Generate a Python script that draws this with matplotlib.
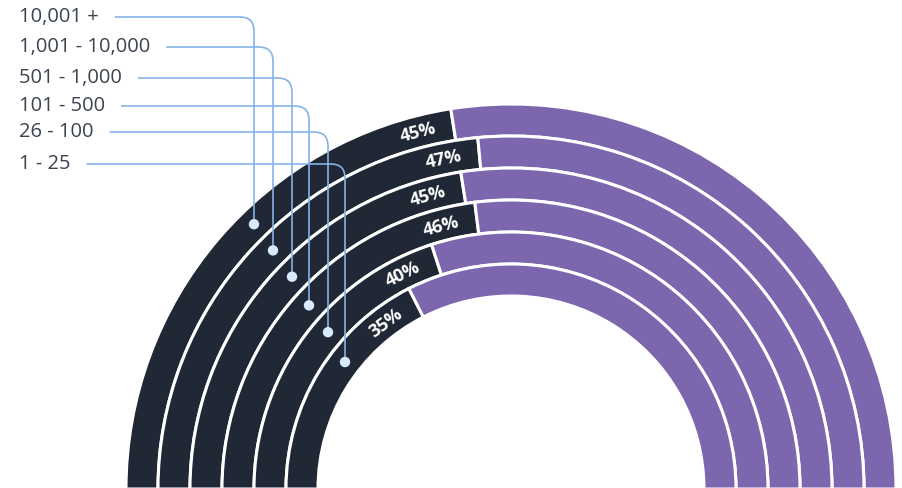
import numpy as np
import matplotlib
matplotlib.use("Agg")
import matplotlib.pyplot as plt
from matplotlib.patches import Wedge, Circle, PathPatch
from matplotlib.path import Path

plt.rcParams['font.family'] = ['Open Sans', 'DejaVu Sans']

# data, outer ring first
groups = ['10,001 +', '1,001 - 10,000', '501 - 1,000', '101 - 500', '26 - 100', '1 - 25']
pct = [45, 47, 45, 46, 40, 35]

dark = '#212835'
purple = '#7c66ad'
line_c = '#85b3e6'
dot_c = '#d8eafb'
text_c = '#3c4351'

W, H = 902, 488
fig = plt.figure(figsize=(W / 100, H / 100), dpi=100)
ax = fig.add_axes([0, 0, 1, 1])
ax.set_xlim(0, W)
ax.set_ylim(0, H)
ax.set_aspect('equal')
ax.axis('off')

cx, cy = 511, -1
r_out = 385
ring_w = 32

for i, p in enumerate(pct):
    r = r_out - i * ring_w
    split = 180 - 180 * p / 100
    ax.add_patch(Wedge((cx, cy), r, split, 180, width=ring_w,
                       facecolor=dark, edgecolor='white', lw=2.2))
    ax.add_patch(Wedge((cx, cy), r, 0, split, width=ring_w,
                       facecolor=purple, edgecolor='white', lw=2.2))
    # percentage label just inside the end of the dark arc
    rm = r - ring_w / 2
    ang = split + np.degrees(36 / rm)
    a = np.radians(ang)
    ax.text(cx + rm * np.cos(a), cy + rm * np.sin(a) - 1, f'{p}%',
            rotation=ang - 90, rotation_mode='anchor', ha='center', va='center',
            color='white', fontsize=13, fontweight='bold')

# legend labels with leader lines
label_y = [17, 47, 78, 106, 132, 164]
vert_x = [254, 273, 292, 309, 328, 345]
texts = []
for g, ly in zip(groups, label_y):
    texts.append(ax.text(19, H - ly, g, ha='left', va='center',
                         color=text_c, fontsize=14.5))

fig.canvas.draw()
inv = ax.transData.inverted()
rad = 14
for i, (t, ly, vx) in enumerate(zip(texts, label_y, vert_x)):
    bb = t.get_window_extent()
    x0 = inv.transform((bb.x1, 0))[0] + 16
    y = H - ly
    rm = r_out - i * ring_w - ring_w / 2
    dy = np.sqrt(rm ** 2 - (vx - cx) ** 2)
    yd = cy + dy
    path = Path([(x0, y), (vx - rad, y), (vx, y), (vx, y - rad), (vx, yd)],
                [Path.MOVETO, Path.LINETO, Path.CURVE3, Path.CURVE3, Path.LINETO])
    ax.add_patch(PathPatch(path, fill=False, edgecolor=line_c, lw=1.2, zorder=3))
    ax.add_patch(Circle((vx, yd), 5.2, facecolor=dot_c, edgecolor='none', zorder=4))

fig.savefig('out.png', dpi=100)
